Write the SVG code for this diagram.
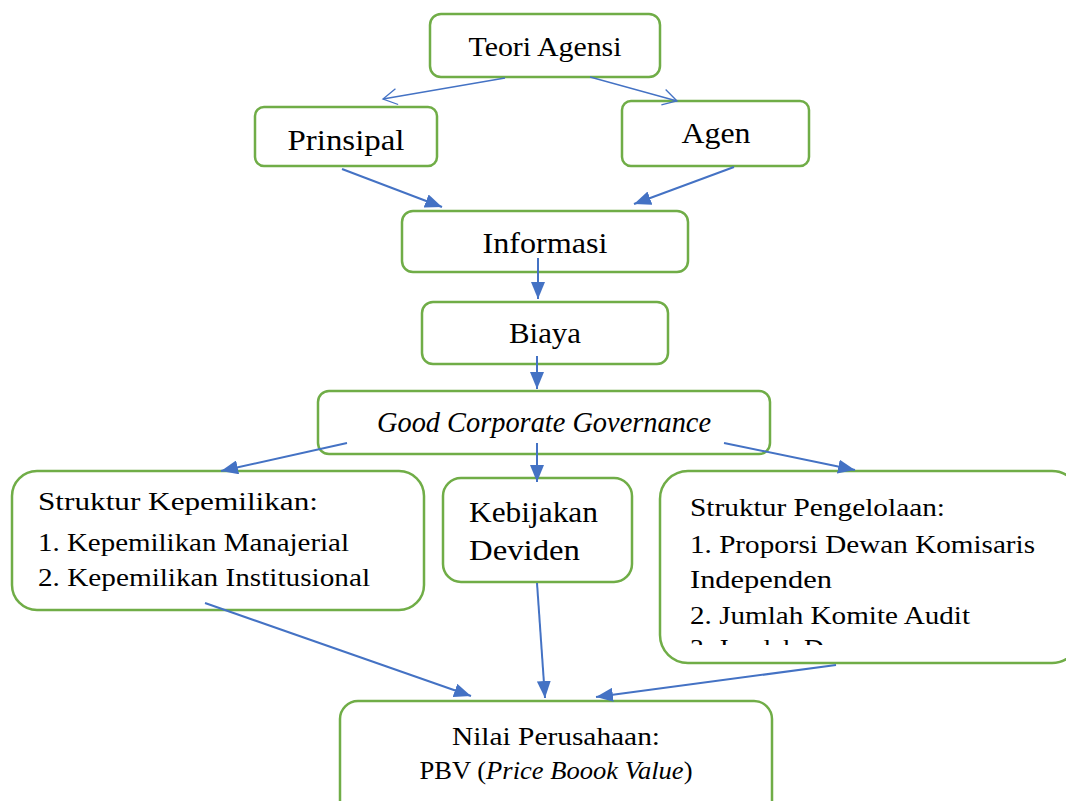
<svg xmlns="http://www.w3.org/2000/svg" width="1066" height="801" viewBox="0 0 1066 801">
<style>
.box{fill:#fff;stroke:#70AD47;stroke-width:2.5}
text{font-family:'Liberation Serif','DejaVu Serif',serif;fill:#000}
.c{stroke:#4472C4;stroke-width:2;fill:none}
.o{stroke:#4472C4;stroke-width:1.3;fill:none}
</style>
<defs>
<marker id="fa" markerUnits="userSpaceOnUse" markerWidth="18" markerHeight="14" refX="17" refY="7" orient="auto" viewBox="0 0 18 14">
<path d="M0,0 L17,7 L0,14 z" fill="#4472C4"/>
</marker>
<marker id="oa" markerUnits="userSpaceOnUse" markerWidth="18" markerHeight="18" refX="16" refY="9" orient="auto" viewBox="0 0 18 18">
<path d="M2,1 L16,9 L2,17" fill="none" stroke="#4472C4" stroke-width="1.3"/>
</marker>
<clipPath id="clipP"><rect x="662" y="472" width="410" height="173"/></clipPath>
</defs>
<rect width="1066" height="801" fill="#fff"/>

<g id="teori">
<rect class="box" x="430" y="14" width="230" height="63" rx="11"/>
<text font-family="Liberation Serif, serif" x="545" y="56" font-size="28" text-anchor="middle" textLength="153" lengthAdjust="spacingAndGlyphs">Teori Agensi</text>
</g>
<g id="prinsipal">
<rect class="box" x="255" y="107" width="182" height="59" rx="9"/>
<text font-family="Liberation Serif, serif" x="346" y="150" font-size="30" text-anchor="middle" textLength="117" lengthAdjust="spacingAndGlyphs">Prinsipal</text>
</g>
<g id="agen">
<rect class="box" x="622" y="101" width="187" height="65" rx="9"/>
<text font-family="Liberation Serif, serif" x="716" y="143" font-size="30" text-anchor="middle" textLength="69" lengthAdjust="spacingAndGlyphs">Agen</text>
</g>
<g id="informasi">
<rect class="box" x="402" y="211" width="286" height="61" rx="11"/>
<text font-family="Liberation Serif, serif" x="545" y="253" font-size="29" text-anchor="middle" textLength="125" lengthAdjust="spacingAndGlyphs">Informasi</text>
</g>
<g id="biaya">
<rect class="box" x="422" y="302" width="246" height="62" rx="11"/>
<text font-family="Liberation Serif, serif" x="545" y="343" font-size="29" text-anchor="middle" textLength="72" lengthAdjust="spacingAndGlyphs">Biaya</text>
</g>
<g id="gcg">
<rect class="box" x="318" y="391" width="452" height="63" rx="11"/>
<text font-family="Liberation Serif, serif" x="544" y="432" font-size="29" font-style="italic" text-anchor="middle" textLength="334" lengthAdjust="spacingAndGlyphs">Good Corporate Governance</text>
</g>
<g id="kepemilikan">
<rect class="box" x="12" y="471" width="412" height="139" rx="25"/>
<text font-family="Liberation Serif, serif" x="38" y="510" font-size="25" textLength="280" lengthAdjust="spacingAndGlyphs">Struktur Kepemilikan:</text>
<text font-family="Liberation Serif, serif" x="38" y="551" font-size="25" textLength="311" lengthAdjust="spacingAndGlyphs">1. Kepemilikan Manajerial</text>
<text font-family="Liberation Serif, serif" x="38" y="586" font-size="25" textLength="332" lengthAdjust="spacingAndGlyphs">2. Kepemilikan Institusional</text>
</g>
<g id="kebijakan">
<rect class="box" x="443" y="478" width="189" height="104" rx="18"/>
<text font-family="Liberation Serif, serif" x="469" y="522" font-size="29" textLength="129" lengthAdjust="spacingAndGlyphs">Kebijakan</text>
<text font-family="Liberation Serif, serif" x="469" y="560" font-size="29" textLength="111" lengthAdjust="spacingAndGlyphs">Deviden</text>
</g>
<g id="pengelolaan">
<rect class="box" x="660" y="471" width="420" height="192" rx="28"/>
<g clip-path="url(#clipP)">
<text font-family="Liberation Serif, serif" x="690" y="516" font-size="25" textLength="255" lengthAdjust="spacingAndGlyphs">Struktur Pengelolaan:</text>
<text font-family="Liberation Serif, serif" x="690" y="553" font-size="25" textLength="345" lengthAdjust="spacingAndGlyphs">1. Proporsi Dewan Komisaris</text>
<text font-family="Liberation Serif, serif" x="690" y="588" font-size="25" textLength="142" lengthAdjust="spacingAndGlyphs">Independen</text>
<text font-family="Liberation Serif, serif" x="690" y="624" font-size="25" textLength="280" lengthAdjust="spacingAndGlyphs">2. Jumlah Komite Audit</text>
<text font-family="Liberation Serif, serif" x="690" y="657" font-size="25" textLength="192" lengthAdjust="spacingAndGlyphs">3. Jumlah Dewan</text>
</g>
</g>
<g id="nilai">
<rect class="box" x="340" y="701" width="432" height="120" rx="18"/>
<text font-family="Liberation Serif, serif" x="556" y="745" font-size="25" text-anchor="middle" textLength="208" lengthAdjust="spacingAndGlyphs">Nilai Perusahaan:</text>
<text font-family="Liberation Serif, serif" x="556" y="779" font-size="25" text-anchor="middle" textLength="273" lengthAdjust="spacingAndGlyphs">PBV (<tspan font-style="italic">Price Boook Value</tspan>)</text>
</g>

<g id="connectors">
<line class="o" x1="505" y1="78" x2="383" y2="99" marker-end="url(#oa)"/>
<line class="o" x1="590" y1="77" x2="677" y2="101" marker-end="url(#oa)"/>
<line class="c" x1="342" y1="169" x2="442" y2="207" marker-end="url(#fa)"/>
<line class="c" x1="734" y1="167" x2="634" y2="204" marker-end="url(#fa)"/>
<line class="c" x1="538" y1="258" x2="538" y2="299" marker-end="url(#fa)"/>
<line class="c" x1="537" y1="356" x2="537" y2="389" marker-end="url(#fa)"/>
<line class="c" x1="347" y1="443" x2="221" y2="471" marker-end="url(#fa)"/>
<line class="c" x1="537" y1="443" x2="537" y2="482" marker-end="url(#fa)"/>
<line class="c" x1="724" y1="443" x2="855" y2="470" marker-end="url(#fa)"/>
<line class="c" x1="205" y1="603" x2="471" y2="696" marker-end="url(#fa)"/>
<line class="c" x1="537" y1="583" x2="545" y2="698" marker-end="url(#fa)"/>
<line class="c" x1="836" y1="665" x2="596" y2="697" marker-end="url(#fa)"/>
</g>
</svg>
